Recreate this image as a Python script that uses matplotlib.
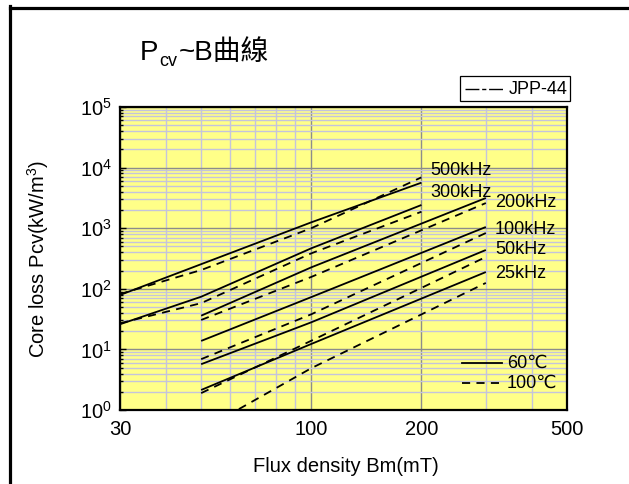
import numpy as np
import matplotlib
matplotlib.use("Agg")
import matplotlib.pyplot as plt
from matplotlib.ticker import FixedLocator, NullFormatter, LogLocator, FixedFormatter
from matplotlib.lines import Line2D
from matplotlib.patches import Rectangle

plt.rcParams['font.family'] = ['Liberation Sans', 'DejaVu Sans']
plt.rcParams['mathtext.fontset'] = 'custom'
plt.rcParams['mathtext.rm'] = 'Liberation Sans'
plt.rcParams['mathtext.it'] = 'Liberation Sans'

# ---- data: flux density B (mT) and core loss Pcv (kW/m^3) ----
b_500_60 = [30, 100, 200]
p_500_60 = [79, 1250, 5640]
b_500_100 = [30, 50, 100, 200]
p_500_100 = [82, 204, 1000, 6900]

b_300_60 = [30, 50, 100, 200]
p_300_60 = [26, 74, 466, 2415]
b_300_100 = [30, 50, 100, 200]
p_300_100 = [27, 58, 385, 1870]

b_200_60 = [50, 100, 300]
p_200_60 = [36, 226, 3150]
b_200_100 = [50, 100, 300]
p_200_100 = [30.6, 157, 2600]

b_100_60 = [50, 100, 300]
p_100_60 = [13.8, 73, 1047]
b_100_100 = [50, 100, 300]
p_100_100 = [6.9, 38, 833]

b_50_60 = [50, 100, 300]
p_50_60 = [5.7, 28, 437]
b_50_100 = [50, 100, 300]
p_50_100 = [1.9, 13.9, 335]

b_25_60 = [50, 100, 300]
p_25_60 = [2.14, 12.3, 189]
b_25_100 = [50, 100, 300]
p_25_100 = [0.46, 4.9, 125]

freq_labels = ["500kHz", "300kHz", "200kHz", "100kHz", "50kHz", "25kHz"]
label_pos_b = [212, 212, 318, 318, 318, 318]
label_pos_p = [8790, 3810, 2606, 935, 437, 182]

x_ticks = [30, 100, 200, 500]
x_minor = [40, 50, 60, 70, 80, 90, 300, 400]

series_60 = [(b_500_60, p_500_60), (b_300_60, p_300_60), (b_200_60, p_200_60),
             (b_100_60, p_100_60), (b_50_60, p_50_60), (b_25_60, p_25_60)]
series_100 = [(b_500_100, p_500_100), (b_300_100, p_300_100), (b_200_100, p_200_100),
              (b_100_100, p_100_100), (b_50_100, p_50_100), (b_25_100, p_25_100)]

W, H = 629, 484
fig = plt.figure(figsize=(W / 100, H / 100), dpi=100)
fig.patch.set_facecolor('white')

ax = fig.add_axes([120 / W, 1 - 410 / H, (567 - 120) / W, (410 - 107) / H])
ax.set_facecolor('#FFFF88')
ax.set_xscale('log')
ax.set_yscale('log')
ax.set_xlim(30, 500)
ax.set_ylim(1, 1e5)

# grid
ax.xaxis.set_major_locator(FixedLocator(x_ticks))
ax.xaxis.set_minor_locator(FixedLocator(x_minor))
ax.xaxis.set_major_formatter(FixedFormatter([str(v) for v in x_ticks]))
ax.xaxis.set_minor_formatter(NullFormatter())
ax.yaxis.set_major_locator(LogLocator(base=10, numticks=10))
ax.yaxis.set_minor_locator(LogLocator(base=10, subs=np.arange(2, 10), numticks=20))
ax.yaxis.set_minor_formatter(NullFormatter())

ax.grid(True, which='minor', color='#C4C4DC', lw=1.0)
ax.grid(True, which='major', color='#8C8C8C', lw=1.0)
ax.set_axisbelow(True)

ax.tick_params(axis='x', which='both', length=0, labelsize=14.5, pad=7)
ax.tick_params(axis='y', which='major', direction='in', length=4, width=1, labelsize=14.5, pad=6)
ax.tick_params(axis='y', which='minor', direction='in', length=2.5, width=1)
ax.tick_params(axis='y', which='both', right=False)

for s in ax.spines.values():
    s.set_color('black')
    s.set_linewidth(1.6)

for b, p in series_60:
    ax.plot(b, p, color='black', lw=1.3, solid_capstyle='butt')
for b, p in series_100:
    ax.plot(b, p, color='black', lw=1.3, linestyle=(0, (4.5, 3.5)))

for lab, bx, py in zip(freq_labels, label_pos_b, label_pos_p):
    ax.text(bx, py, lab, fontsize=13, va='center', ha='left')

ax.set_xlabel('Flux density Bm(mT)', fontsize=14.5)
ax.xaxis.set_label_coords(0.505, -0.155)
ax.set_ylabel('Core loss Pcv(kW/m$^3$)', fontsize=14.5)
ax.yaxis.set_label_coords(-0.155, 0.5)

# temperature legend (inside axes)
fig.add_artist(Line2D([462 / W, 502 / W], [1 - 363 / H, 1 - 363 / H], color='black', lw=1.3))
fig.text(507 / W, 1 - 363 / H, '60℃', fontsize=13, va='center', ha='left')
fig.add_artist(Line2D([462 / W, 502 / W], [1 - 383 / H, 1 - 383 / H], color='black', lw=1.3,
                      linestyle=(0, (4.5, 3.5))))
fig.text(507 / W, 1 - 383 / H, '100℃', fontsize=13, va='center', ha='left')

# JPP-44 box
fig.add_artist(Rectangle((460 / W, 1 - 101 / H), 110 / W, 25 / H, transform=fig.transFigure,
                         fill=False, edgecolor='black', lw=0.9))
fig.add_artist(Line2D([465 / W, 508 / W], [1 - 89 / H, 1 - 89 / H], color='black', lw=1.0,
                      linestyle=(0, (10, 2, 3, 2, 10, 100))))
fig.text(509 / W, 1 - 89 / H, 'JPP-44', fontsize=13, va='center', ha='left')

# title with subscript
fig.canvas.draw()
r = fig.canvas.get_renderer()
t1 = fig.text(140 / W, 1 - 60 / H, 'P', fontsize=20, va='baseline', ha='left')
e1 = t1.get_window_extent(r)
t2 = fig.text(e1.x1 / W + 1 / W, 1 - 66 / H, 'cv', fontsize=13, va='baseline', ha='left')
e2 = t2.get_window_extent(r)
t3 = fig.text(e2.x1 / W + 1 / W, 1 - 60 / H, '~B曲線', fontsize=20, va='baseline', ha='left',
              family=['Liberation Sans', 'Noto Sans CJK TC'])

# outer frame (left and top edges)
fig.add_artist(Line2D([9.5 / W, 9.5 / W], [0, 1 - 6 / H], color='black', lw=2.3,
                      solid_capstyle='projecting'))
fig.add_artist(Line2D([9.5 / W, 1.0], [1 - 7.5 / H, 1 - 7.5 / H], color='black', lw=2.3,
                      solid_capstyle='projecting'))

fig.savefig('out.png', dpi=100)
